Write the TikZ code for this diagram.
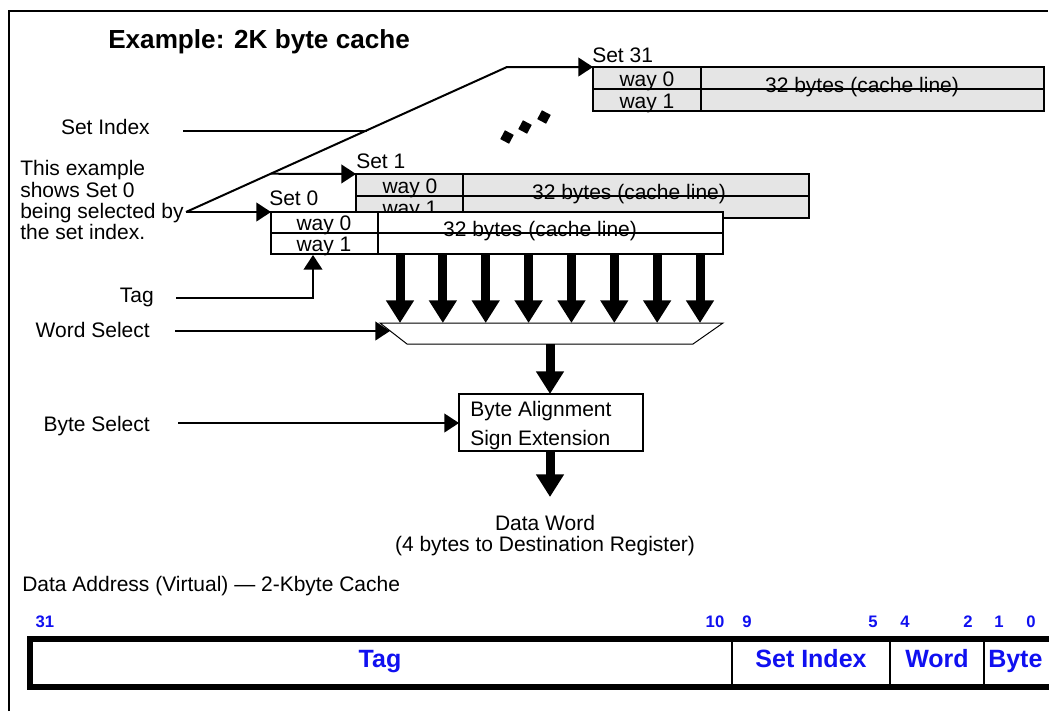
\documentclass[tikz,border=0pt]{standalone}
\usepackage{fontspec}
\setmainfont{Liberation Sans}
\usetikzlibrary{arrows.meta,calc}
\definecolor{cachegray}{RGB}{229,229,229}
\definecolor{bitblue}{RGB}{16,16,240}
\tikzset{
 txt/.style={inner sep=0pt, font=\fontsize{15.75pt}{19pt}\selectfont},
 lbl/.style={txt, anchor=base west},
 rlbl/.style={txt, anchor=base east},
 clbl/.style={txt, anchor=base},
 boxline/.style={line width=1.5pt},
 thinarrow/.style={line width=1.5pt, -{Triangle[width=14pt,length=11pt]}},
 fatarrow/.style={line width=6.75pt, -{Triangle[width=20pt,length=17pt]}},
 bitnum/.style={inner sep=0pt, anchor=base, text=bitblue, font=\bfseries\fontsize{12.5pt}{15pt}\selectfont},
 field/.style={inner sep=0pt, anchor=base, text=bitblue, font=\bfseries\fontsize{18.75pt}{22pt}\selectfont},
}
\begin{document}
\begin{tikzpicture}[x=0.75pt,y=-0.75pt]
\useasboundingbox (0,0) rectangle (1049,711);
\clip (0,0) rectangle (1049,711);
% outer frame
\draw[line width=1.5pt] (8.5,711) -- (8.5,11) -- (1048,11);
% title
\node[anchor=base west, inner sep=0pt, font=\bfseries\fontsize{19.6pt}{24pt}\selectfont] (title) at (108,48) {Example: 2K byte cache};

% ---- Set 31
\draw[boxline, fill=cachegray] (593,67) rectangle (1044,111);
\draw[boxline] (593,89) -- (1044,89) (701,67) -- (701,111);
\coordinate (s31) at (593,67);
\node[lbl] (set31) at (592,62) {Set 31};
\node[clbl] (s31w0) at (647,86) {way 0};
\node[clbl] (s31w1) at (647,108) {way 1};
\node[clbl] (s31l) at (862,92) {32 bytes (cache line)};

% dots
\foreach \p in {(507,137),(525,127),(544,117)}
  \node[fill, inner sep=0pt, minimum size=7.5pt, rotate=-28] at \p {};

% ---- Set 1
\draw[boxline, fill=cachegray] (356,174) rectangle (809,218);
\draw[boxline] (356,196) -- (809,196) (463,174) -- (463,218);
\coordinate (s1) at (356,174);
\node[lbl] (set1) at (356,168) {Set 1};
\node[clbl] (s1w0) at (410,193) {way 0};
\node[clbl] (s1w1) at (410,215) {way 1};
\node[clbl] (s1l) at (629,199) {32 bytes (cache line)};

% ---- Set 0
\draw[boxline, fill=white] (271,212) rectangle (723,254);
\draw[boxline] (271,233) -- (723,233) (378,212) -- (378,254);
\coordinate (s0) at (271,212);
\node[lbl] (set0) at (269,205) {Set 0};
\node[clbl] (s0w0) at (324,230) {way 0};
\node[clbl] (s0w1) at (324,251) {way 1};
\node[clbl] (s0l) at (540,236) {32 bytes (cache line)};

% ---- set index selection
\coordinate (sel) at (186,212);
\coordinate (bend) at (507,67);
\coordinate (d1) at ($(sel)!0.264!(bend)$);
\coordinate (dsi) at ($(sel)!0.563!(bend)$);
\draw[thinarrow] (sel) -- (bend) -- (s31);
\draw[thinarrow] (d1) -- (s1);
\draw[thinarrow] (sel) -- (s0);
\coordinate (siStart) at (183,131);
\draw[line width=1.5pt] (siStart) -- (siStart -| dsi);

% ---- left labels
\node[rlbl] (lsi) at (150,134) {Set Index};
\node[lbl] (ex1) at (20,175) {This example};
\node[lbl] (ex2) at (20,197) {shows Set 0};
\node[lbl] (ex3) at (20,218) {being selected by};
\node[lbl] (ex4) at (20,239) {the set index.};
\node[rlbl] (ltag) at (154,302) {Tag};
\node[rlbl] (lws) at (150,337) {Word Select};
\node[rlbl] (lbs) at (150,431) {Byte Select};

% ---- tag arrow
\coordinate (tagStart) at (176,298);
\coordinate (tagEnd) at (313,255);
\draw[thinarrow] (tagStart) -| (tagEnd);

% ---- mux
\coordinate (muxTL) at (380,323);
\coordinate (muxTR) at (723,323);
\coordinate (muxBR) at (693,344);
\coordinate (muxBL) at (407,344);
\draw[line width=0.75pt, fill=white] (muxTL) -- (muxTR) -- (muxBR) -- (muxBL) -- cycle;
\foreach \i in {0,...,7} {
  \coordinate (a\i) at ({400+42.857*\i},254);
  \coordinate (b\i) at ({400+42.857*\i},323);
  \draw[fatarrow] (a\i) -- (b\i);
}
\coordinate (wsStart) at (175,331);
\coordinate (wsEnd) at (390,331);
\draw[thinarrow] (wsStart) -- (wsEnd);

% ---- byte box
\draw[line width=1.1pt] (459,394) rectangle (643,451);
\coordinate (bbTop) at (550,394);
\coordinate (bbBot) at (550,451);
\coordinate (bbLeft) at (459,423);
\coordinate (muxOut) at (550,344);
\node[lbl] (ba) at (470,416) {Byte Alignment};
\node[lbl] (se) at (470,445) {Sign Extension};
\draw[fatarrow] (muxOut) -- (bbTop);
\coordinate (outEnd) at (550,497);
\draw[fatarrow] (bbBot) -- (outEnd);
\coordinate (bsStart) at (178,423);
\draw[thinarrow] (bsStart) -- (bbLeft);

\node[clbl] (dw1) at (545,530) {Data Word};
\node[clbl] (dw2) at (545,551) {(4 bytes to Destination Register)};

% ---- address format
\node[lbl] (da) at (22,591) {Data Address (Virtual) --- 2-Kbyte Cache};
\node[bitnum] at (45,627) {31};
\node[bitnum] at (715,627) {10};
\node[bitnum] at (747,627) {9};
\node[bitnum] at (873,627) {5};
\node[bitnum] at (905,627) {4};
\node[bitnum] at (968,627) {2};
\node[bitnum] at (999,627) {1};
\node[bitnum] at (1031,627) {0};
\draw[line width=4.5pt] (1070,639) -- (30,639) -- (30,687) -- (1070,687);
\draw[line width=1.5pt] (732,639) -- (732,687) (890,639) -- (890,687) (984,639) -- (984,687);
\node[field] (ftag) at (380,667) {Tag};
\node[field] (fsi) at (811,667) {Set Index};
\node[field] (fw) at (937,667) {Word};
\node[field, anchor=base west] (fb) at (988,667) {Byte};
\end{tikzpicture}
\end{document}
